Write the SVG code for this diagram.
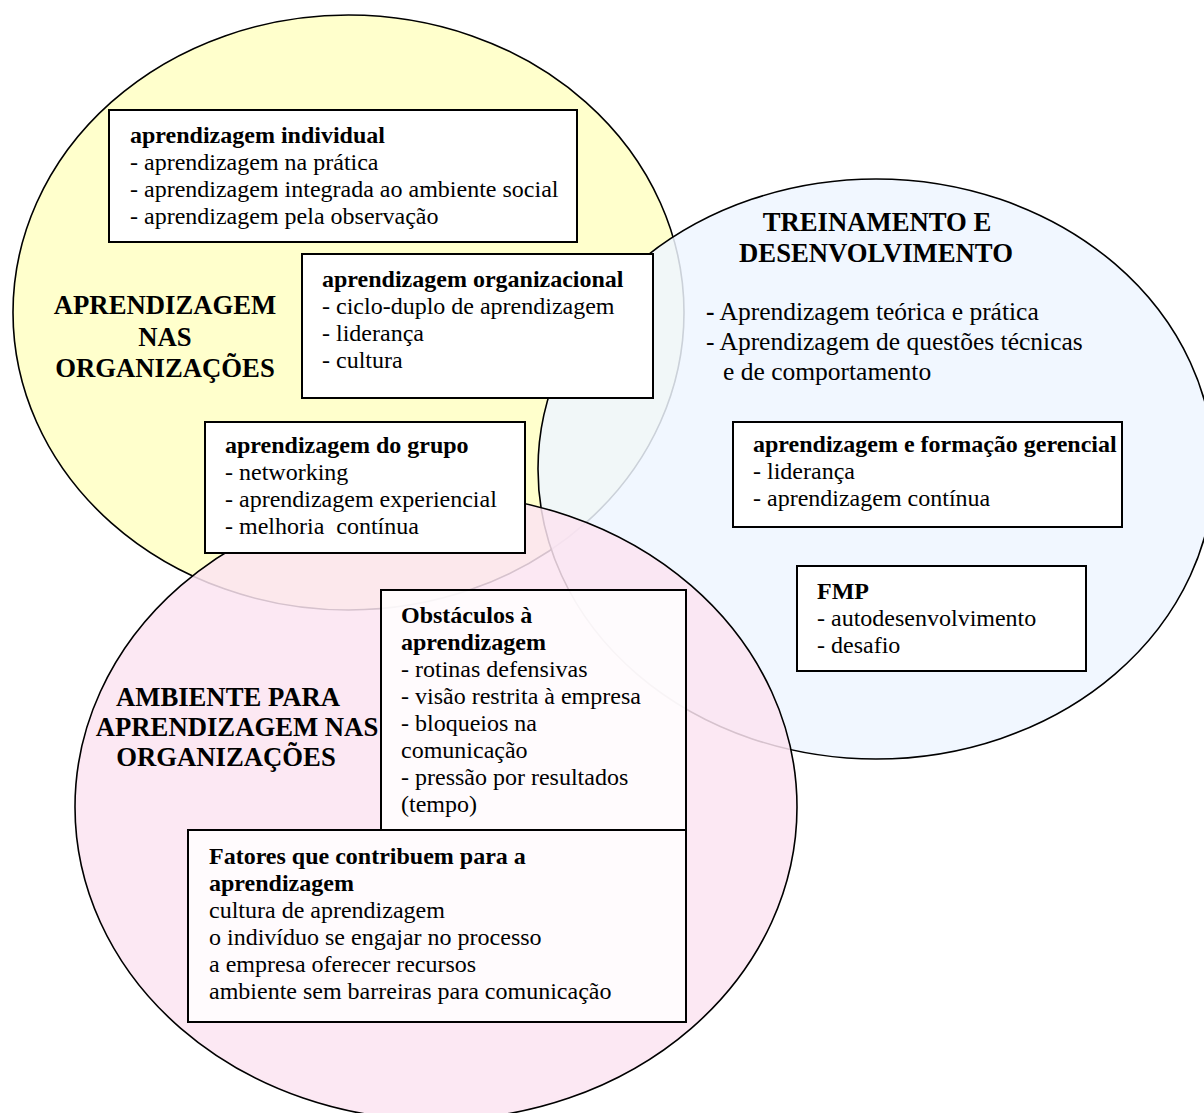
<svg xmlns="http://www.w3.org/2000/svg" width="1204" height="1113" viewBox="0 0 1204 1113">
  <style>
    text { font-family: "Liberation Serif", "Times New Roman", serif; fill: #000; }
    .body { font-size: 24px; }
    .b { font-weight: bold; }
    .head { font-size: 26.7px; font-weight: bold; text-anchor: middle; }
    .lead { font-size: 25.5px; }
    .circle { stroke: #000; stroke-width: 1.6; }
    .box { fill: #fff; stroke: #000; stroke-width: 2; }
    .box-soft { fill: #fff; fill-opacity: 0.82; stroke: #000; stroke-width: 2; }
  </style>
  <rect width="1204" height="1113" fill="#fff"/>

  <!-- the three overlapping areas -->
  <g id="areas">
    <ellipse id="area-organizacoes" class="circle" cx="348.5" cy="312.5" rx="335.5" ry="297.5" fill="#FFFFCC"/>
    <ellipse id="area-treinamento" class="circle" cx="876" cy="469" rx="338" ry="290" fill="#EFF6FF" fill-opacity="0.85"/>
    <ellipse id="area-ambiente" class="circle" cx="436" cy="807" rx="361" ry="313" fill="#FCE4F1" fill-opacity="0.85"/>
  </g>

  <!-- area titles -->
  <g id="title-organizacoes">
    <text class="head" x="165" y="314">APRENDIZAGEM</text>
    <text class="head" x="165" y="346">NAS</text>
    <text class="head" x="165" y="377">ORGANIZAÇÕES</text>
  </g>
  <g id="title-treinamento">
    <text class="head" x="877" y="231">TREINAMENTO E</text>
    <text class="head" x="876" y="262">DESENVOLVIMENTO</text>
    <text class="lead" x="706" y="320"><tspan class="b">-</tspan> Aprendizagem teórica e prática</text>
    <text class="lead" x="706" y="350">- Aprendizagem de questões técnicas</text>
    <text class="lead" x="723" y="380">e de comportamento</text>
  </g>
  <g id="title-ambiente">
    <text class="head" x="228" y="706">AMBIENTE PARA</text>
    <text class="head" x="237" y="736">APRENDIZAGEM NAS</text>
    <text class="head" x="226" y="766">ORGANIZAÇÕES</text>
  </g>

  <!-- content boxes -->
  <g id="box-individual">
    <rect class="box" x="109" y="110" width="468" height="132"/>
    <text class="body" x="130" y="143"><tspan class="b">aprendizagem individual</tspan></text>
    <text class="body" x="130" y="170">- aprendizagem na prática</text>
    <text class="body" x="130" y="197">- aprendizagem integrada ao ambiente social</text>
    <text class="body" x="130" y="224">- aprendizagem pela observação</text>
  </g>
  <g id="box-organizacional">
    <rect class="box" x="302" y="254" width="351" height="144"/>
    <text class="body" x="322" y="287"><tspan class="b">aprendizagem organizacional</tspan></text>
    <text class="body" x="322" y="314">- ciclo-duplo de aprendizagem</text>
    <text class="body" x="322" y="341">- liderança</text>
    <text class="body" x="322" y="368">- cultura</text>
  </g>
  <g id="box-grupo">
    <rect class="box" x="205" y="422" width="320" height="131"/>
    <text class="body" x="225" y="453"><tspan class="b">aprendizagem do grupo</tspan></text>
    <text class="body" x="225" y="480">- networking</text>
    <text class="body" x="225" y="507">- aprendizagem experiencial</text>
    <text class="body" x="225" y="534" xml:space="preserve">- melhoria  contínua</text>
  </g>
  <g id="box-gerencial">
    <rect class="box" x="733" y="422" width="389" height="105"/>
    <text class="body" x="753" y="452"><tspan class="b">aprendizagem e formação gerencial</tspan></text>
    <text class="body" x="753" y="479">- liderança</text>
    <text class="body" x="753" y="506">- aprendizagem contínua</text>
  </g>
  <g id="box-fmp">
    <rect class="box" x="797" y="566" width="289" height="105"/>
    <text class="body" x="817" y="599"><tspan class="b">FMP</tspan></text>
    <text class="body" x="817" y="626">- autodesenvolvimento</text>
    <text class="body" x="817" y="653">- desafio</text>
  </g>
  <g id="box-obstaculos">
    <rect class="box-soft" x="381" y="590" width="305" height="240"/>
    <text class="body" x="401" y="623"><tspan class="b">Obstáculos à</tspan></text>
    <text class="body" x="401" y="650"><tspan class="b">aprendizagem</tspan></text>
    <text class="body" x="401" y="677">- rotinas defensivas</text>
    <text class="body" x="401" y="704">- visão restrita à empresa</text>
    <text class="body" x="401" y="731">- bloqueios na</text>
    <text class="body" x="401" y="758">comunicação</text>
    <text class="body" x="401" y="785">- pressão por resultados</text>
    <text class="body" x="401" y="812">(tempo)</text>
  </g>
  <g id="box-fatores">
    <rect class="box-soft" x="188" y="830" width="498" height="192"/>
    <text class="body" x="209" y="864"><tspan class="b">Fatores que contribuem para a</tspan></text>
    <text class="body" x="209" y="891"><tspan class="b">aprendizagem</tspan></text>
    <text class="body" x="209" y="918">cultura de aprendizagem</text>
    <text class="body" x="209" y="945">o indivíduo se engajar no processo</text>
    <text class="body" x="209" y="972">a empresa oferecer recursos</text>
    <text class="body" x="209" y="999">ambiente sem barreiras para comunicação</text>
  </g>

  <!-- no connectors in this diagram -->
  <g id="connectors"/>
</svg>
